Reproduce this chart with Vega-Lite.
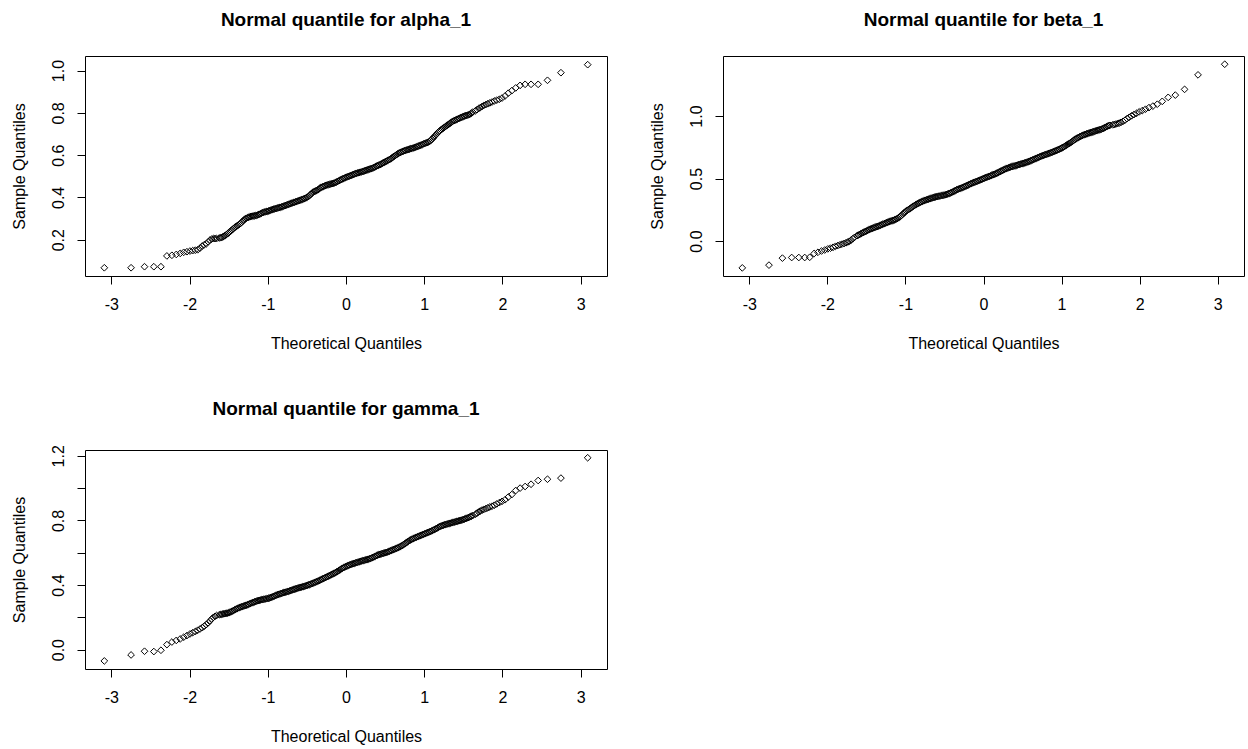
{
  "$schema": "https://vega.github.io/schema/vega-lite/v6.json",
  "background": "white",
  "padding": {"left": 10, "top": 10, "right": 5, "bottom": 5},
  "config": {
    "view": {"stroke": "black", "strokeWidth": 1},
    "font": "Liberation Sans",
    "axis": {
      "domain": false,
      "grid": false,
      "ticks": true,
      "tickColor": "black",
      "tickSize": 8,
      "labelFont": "Liberation Sans",
      "labelFontSize": 16,
      "labelColor": "black",
      "labelOverlap": false,
      "titleFont": "Liberation Sans",
      "titleFontSize": 16,
      "titleFontWeight": "normal",
      "titleColor": "black"
    },
    "axisX": {"labelPadding": 12, "titlePadding": 23},
    "axisY": {"labelAngle": -90, "labelAlign": "center", "labelBaseline": "bottom", "labelPadding": 11, "titlePadding": 23},
    "title": {"font": "Liberation Sans", "fontSize": 19, "fontWeight": "bold", "color": "black", "anchor": "middle", "offset": 26},
    "point": {"shape": "diamond", "size": 45, "filled": false, "stroke": "black", "strokeWidth": 1, "opacity": 1}
  },
  "datasets": {
    "alpha_1": [
      {"x":-3.090,"y":0.067},{"x":-2.748,"y":0.067},{"x":-2.576,"y":0.072},{"x":-2.457,"y":0.072},{"x":-2.366,"y":0.072},
      {"x":-2.290,"y":0.123},{"x":-2.226,"y":0.126},{"x":-2.170,"y":0.130},{"x":-2.120,"y":0.135},{"x":-2.075,"y":0.140},
      {"x":-2.034,"y":0.143},{"x":-1.995,"y":0.146},{"x":-1.960,"y":0.148},{"x":-1.927,"y":0.150},{"x":-1.896,"y":0.152},
      {"x":-1.866,"y":0.160},{"x":-1.838,"y":0.170},{"x":-1.812,"y":0.176},{"x":-1.787,"y":0.180},{"x":-1.762,"y":0.190},
      {"x":-1.739,"y":0.198},{"x":-1.717,"y":0.203},{"x":-1.695,"y":0.205},{"x":-1.675,"y":0.205},{"x":-1.655,"y":0.205},
      {"x":-1.62,"y":0.208},{"x":-1.59,"y":0.210},{"x":-1.56,"y":0.216},{"x":-1.53,"y":0.224},{"x":-1.50,"y":0.232},
      {"x":-1.47,"y":0.242},{"x":-1.44,"y":0.252},{"x":-1.41,"y":0.261},{"x":-1.38,"y":0.268},{"x":-1.35,"y":0.276},
      {"x":-1.32,"y":0.288},{"x":-1.29,"y":0.298},{"x":-1.26,"y":0.304},{"x":-1.23,"y":0.308},{"x":-1.20,"y":0.311},
      {"x":-1.17,"y":0.313},{"x":-1.14,"y":0.315},{"x":-1.11,"y":0.320},{"x":-1.08,"y":0.325},{"x":-1.05,"y":0.330},
      {"x":-1.02,"y":0.333},{"x":-0.99,"y":0.336},{"x":-0.96,"y":0.340},{"x":-0.93,"y":0.344},{"x":-0.90,"y":0.347},
      {"x":-0.87,"y":0.350},{"x":-0.84,"y":0.353},{"x":-0.81,"y":0.357},{"x":-0.78,"y":0.361},{"x":-0.75,"y":0.365},
      {"x":-0.72,"y":0.369},{"x":-0.69,"y":0.373},{"x":-0.66,"y":0.377},{"x":-0.63,"y":0.381},{"x":-0.60,"y":0.385},
      {"x":-0.57,"y":0.389},{"x":-0.54,"y":0.393},{"x":-0.51,"y":0.398},{"x":-0.48,"y":0.404},{"x":-0.45,"y":0.415},
      {"x":-0.42,"y":0.425},{"x":-0.39,"y":0.430},{"x":-0.36,"y":0.436},{"x":-0.33,"y":0.445},{"x":-0.30,"y":0.450},
      {"x":-0.27,"y":0.455},{"x":-0.24,"y":0.459},{"x":-0.21,"y":0.462},{"x":-0.18,"y":0.465},{"x":-0.15,"y":0.468},
      {"x":-0.12,"y":0.473},{"x":-0.09,"y":0.479},{"x":-0.06,"y":0.485},{"x":-0.03,"y":0.490},{"x":0.00,"y":0.495},
      {"x":0.03,"y":0.499},{"x":0.06,"y":0.503},{"x":0.09,"y":0.508},{"x":0.12,"y":0.512},{"x":0.15,"y":0.516},
      {"x":0.18,"y":0.519},{"x":0.21,"y":0.522},{"x":0.24,"y":0.526},{"x":0.27,"y":0.530},{"x":0.30,"y":0.534},
      {"x":0.33,"y":0.537},{"x":0.36,"y":0.542},{"x":0.39,"y":0.548},{"x":0.42,"y":0.553},{"x":0.45,"y":0.558},
      {"x":0.48,"y":0.564},{"x":0.51,"y":0.570},{"x":0.54,"y":0.576},{"x":0.57,"y":0.582},{"x":0.60,"y":0.590},
      {"x":0.63,"y":0.598},{"x":0.66,"y":0.606},{"x":0.69,"y":0.612},{"x":0.72,"y":0.617},{"x":0.75,"y":0.621},
      {"x":0.78,"y":0.625},{"x":0.81,"y":0.628},{"x":0.84,"y":0.632},{"x":0.87,"y":0.635},{"x":0.90,"y":0.639},
      {"x":0.93,"y":0.643},{"x":0.96,"y":0.648},{"x":0.99,"y":0.653},{"x":1.02,"y":0.657},{"x":1.05,"y":0.661},
      {"x":1.08,"y":0.668},{"x":1.11,"y":0.680},{"x":1.14,"y":0.692},{"x":1.17,"y":0.705},{"x":1.20,"y":0.715},
      {"x":1.23,"y":0.724},{"x":1.26,"y":0.732},{"x":1.29,"y":0.740},{"x":1.32,"y":0.748},{"x":1.35,"y":0.756},
      {"x":1.38,"y":0.763},{"x":1.41,"y":0.768},{"x":1.44,"y":0.773},{"x":1.47,"y":0.778},{"x":1.50,"y":0.783},
      {"x":1.53,"y":0.787},{"x":1.56,"y":0.790},{"x":1.59,"y":0.795},{"x":1.62,"y":0.803},
      {"x":-1.605,"y":0.209},{"x":-1.575,"y":0.213},{"x":-1.545,"y":0.220},{"x":-1.515,"y":0.228},{"x":-1.485,"y":0.237},
      {"x":-1.455,"y":0.247},{"x":-1.425,"y":0.257},{"x":-1.395,"y":0.265},{"x":-1.365,"y":0.272},{"x":-1.335,"y":0.282},
      {"x":-1.305,"y":0.293},{"x":-1.275,"y":0.301},{"x":-1.245,"y":0.306},{"x":-1.215,"y":0.310},{"x":-1.185,"y":0.312},
      {"x":-1.155,"y":0.314},{"x":-1.125,"y":0.318},{"x":-1.095,"y":0.322},{"x":-1.065,"y":0.328},{"x":-1.035,"y":0.331},
      {"x":-1.005,"y":0.334},{"x":-0.975,"y":0.338},{"x":-0.945,"y":0.342},{"x":-0.915,"y":0.345},{"x":-0.885,"y":0.348},
      {"x":-0.855,"y":0.352},{"x":-0.825,"y":0.355},{"x":-0.795,"y":0.359},{"x":-0.765,"y":0.363},{"x":-0.735,"y":0.367},
      {"x":-0.705,"y":0.371},{"x":-0.675,"y":0.375},{"x":-0.645,"y":0.379},{"x":-0.615,"y":0.383},{"x":-0.585,"y":0.387},
      {"x":-0.555,"y":0.391},{"x":-0.525,"y":0.395},{"x":-0.495,"y":0.401},{"x":-0.465,"y":0.409},{"x":-0.435,"y":0.420},
      {"x":-0.405,"y":0.428},{"x":-0.375,"y":0.433},{"x":-0.345,"y":0.440},{"x":-0.315,"y":0.448},{"x":-0.285,"y":0.452},
      {"x":-0.255,"y":0.457},{"x":-0.225,"y":0.460},{"x":-0.195,"y":0.463},{"x":-0.165,"y":0.466},{"x":-0.135,"y":0.470},
      {"x":-0.105,"y":0.476},{"x":-0.075,"y":0.482},{"x":-0.045,"y":0.487},{"x":-0.015,"y":0.492},{"x":0.015,"y":0.497},
      {"x":0.045,"y":0.501},{"x":0.075,"y":0.505},{"x":0.105,"y":0.510},{"x":0.135,"y":0.514},{"x":0.165,"y":0.517},
      {"x":0.195,"y":0.520},{"x":0.225,"y":0.524},{"x":0.255,"y":0.528},{"x":0.285,"y":0.532},{"x":0.315,"y":0.535},
      {"x":0.345,"y":0.539},{"x":0.375,"y":0.545},{"x":0.405,"y":0.550},{"x":0.435,"y":0.555},{"x":0.465,"y":0.561},
      {"x":0.495,"y":0.567},{"x":0.525,"y":0.573},{"x":0.555,"y":0.579},{"x":0.585,"y":0.586},{"x":0.615,"y":0.594},
      {"x":0.645,"y":0.602},{"x":0.675,"y":0.609},{"x":0.705,"y":0.614},{"x":0.735,"y":0.619},{"x":0.765,"y":0.623},
      {"x":0.795,"y":0.626},{"x":0.825,"y":0.630},{"x":0.855,"y":0.633},{"x":0.885,"y":0.637},{"x":0.915,"y":0.641},
      {"x":0.945,"y":0.645},{"x":0.975,"y":0.650},{"x":1.005,"y":0.655},{"x":1.035,"y":0.659},{"x":1.065,"y":0.664},
      {"x":1.095,"y":0.674},{"x":1.125,"y":0.686},{"x":1.155,"y":0.698},{"x":1.185,"y":0.710},{"x":1.215,"y":0.720},
      {"x":1.245,"y":0.728},{"x":1.275,"y":0.736},{"x":1.305,"y":0.744},{"x":1.335,"y":0.752},{"x":1.365,"y":0.760},
      {"x":1.395,"y":0.765},{"x":1.425,"y":0.770},{"x":1.455,"y":0.775},{"x":1.485,"y":0.780},{"x":1.515,"y":0.785},
      {"x":1.545,"y":0.788},{"x":1.575,"y":0.792},{"x":1.605,"y":0.799},
      {"x":1.655,"y":0.810},{"x":1.675,"y":0.815},{"x":1.695,"y":0.820},{"x":1.717,"y":0.825},{"x":1.739,"y":0.830},
      {"x":1.762,"y":0.835},{"x":1.787,"y":0.839},{"x":1.812,"y":0.843},{"x":1.838,"y":0.847},{"x":1.866,"y":0.851},
      {"x":1.896,"y":0.856},{"x":1.927,"y":0.860},{"x":1.960,"y":0.864},{"x":1.995,"y":0.870},{"x":2.034,"y":0.880},
      {"x":2.075,"y":0.893},{"x":2.120,"y":0.905},{"x":2.170,"y":0.918},{"x":2.226,"y":0.930},{"x":2.290,"y":0.935},
      {"x":2.366,"y":0.935},{"x":2.457,"y":0.935},{"x":2.576,"y":0.954},{"x":2.748,"y":0.990},{"x":3.090,"y":1.028}
    ],
    "beta_1": [
      {"x":-3.090,"y":-0.215},{"x":-2.748,"y":-0.193},{"x":-2.576,"y":-0.137},{"x":-2.457,"y":-0.132},{"x":-2.366,"y":-0.132},
      {"x":-2.290,"y":-0.132},{"x":-2.226,"y":-0.130},{"x":-2.170,"y":-0.100},{"x":-2.120,"y":-0.090},{"x":-2.075,"y":-0.080},
      {"x":-2.034,"y":-0.072},{"x":-1.995,"y":-0.063},{"x":-1.960,"y":-0.057},{"x":-1.927,"y":-0.050},{"x":-1.896,"y":-0.042},
      {"x":-1.866,"y":-0.036},{"x":-1.838,"y":-0.030},{"x":-1.812,"y":-0.025},{"x":-1.787,"y":-0.020},{"x":-1.762,"y":-0.014},
      {"x":-1.739,"y":-0.008},{"x":-1.717,"y":-0.002},{"x":-1.695,"y":0.008},{"x":-1.675,"y":0.018},{"x":-1.655,"y":0.028},
      {"x":-1.62,"y":0.043},{"x":-1.59,"y":0.052},{"x":-1.56,"y":0.062},{"x":-1.53,"y":0.072},{"x":-1.50,"y":0.080},
      {"x":-1.47,"y":0.090},{"x":-1.44,"y":0.098},{"x":-1.41,"y":0.105},{"x":-1.38,"y":0.112},{"x":-1.35,"y":0.118},
      {"x":-1.32,"y":0.126},{"x":-1.29,"y":0.135},{"x":-1.26,"y":0.142},{"x":-1.23,"y":0.150},{"x":-1.20,"y":0.157},
      {"x":-1.17,"y":0.163},{"x":-1.14,"y":0.170},{"x":-1.11,"y":0.178},{"x":-1.08,"y":0.190},{"x":-1.05,"y":0.205},
      {"x":-1.02,"y":0.225},{"x":-0.99,"y":0.240},{"x":-0.96,"y":0.252},{"x":-0.93,"y":0.265},{"x":-0.90,"y":0.278},
      {"x":-0.87,"y":0.290},{"x":-0.84,"y":0.300},{"x":-0.81,"y":0.310},{"x":-0.78,"y":0.318},{"x":-0.75,"y":0.326},
      {"x":-0.72,"y":0.332},{"x":-0.69,"y":0.338},{"x":-0.66,"y":0.344},{"x":-0.63,"y":0.350},{"x":-0.60,"y":0.355},
      {"x":-0.57,"y":0.359},{"x":-0.54,"y":0.363},{"x":-0.51,"y":0.367},{"x":-0.48,"y":0.372},{"x":-0.45,"y":0.378},
      {"x":-0.42,"y":0.386},{"x":-0.39,"y":0.395},{"x":-0.36,"y":0.405},{"x":-0.33,"y":0.414},{"x":-0.30,"y":0.421},
      {"x":-0.27,"y":0.428},{"x":-0.24,"y":0.436},{"x":-0.21,"y":0.445},{"x":-0.18,"y":0.454},{"x":-0.15,"y":0.462},
      {"x":-0.12,"y":0.470},{"x":-0.09,"y":0.477},{"x":-0.06,"y":0.484},{"x":-0.03,"y":0.492},{"x":0.00,"y":0.500},
      {"x":0.03,"y":0.508},{"x":0.06,"y":0.515},{"x":0.09,"y":0.522},{"x":0.12,"y":0.530},{"x":0.15,"y":0.537},
      {"x":0.18,"y":0.545},{"x":0.21,"y":0.555},{"x":0.24,"y":0.565},{"x":0.27,"y":0.574},{"x":0.30,"y":0.582},
      {"x":0.33,"y":0.589},{"x":0.36,"y":0.595},{"x":0.39,"y":0.600},{"x":0.42,"y":0.605},{"x":0.45,"y":0.611},
      {"x":0.48,"y":0.617},{"x":0.51,"y":0.622},{"x":0.54,"y":0.628},{"x":0.57,"y":0.634},{"x":0.60,"y":0.642},
      {"x":0.63,"y":0.650},{"x":0.66,"y":0.658},{"x":0.69,"y":0.666},{"x":0.72,"y":0.674},{"x":0.75,"y":0.682},
      {"x":0.78,"y":0.689},{"x":0.81,"y":0.695},{"x":0.84,"y":0.702},{"x":0.87,"y":0.709},{"x":0.90,"y":0.716},
      {"x":0.93,"y":0.724},{"x":0.96,"y":0.732},{"x":0.99,"y":0.740},{"x":1.02,"y":0.750},{"x":1.05,"y":0.762},
      {"x":1.08,"y":0.774},{"x":1.11,"y":0.786},{"x":1.14,"y":0.798},{"x":1.17,"y":0.812},{"x":1.20,"y":0.824},
      {"x":1.23,"y":0.834},{"x":1.26,"y":0.843},{"x":1.29,"y":0.851},{"x":1.32,"y":0.858},{"x":1.35,"y":0.864},
      {"x":1.38,"y":0.870},{"x":1.41,"y":0.876},{"x":1.44,"y":0.882},{"x":1.47,"y":0.888},{"x":1.50,"y":0.893},
      {"x":1.53,"y":0.900},{"x":1.56,"y":0.910},{"x":1.59,"y":0.920},{"x":1.62,"y":0.926},
      {"x":-1.605,"y":0.047},{"x":-1.575,"y":0.057},{"x":-1.545,"y":0.067},{"x":-1.515,"y":0.076},{"x":-1.485,"y":0.085},
      {"x":-1.455,"y":0.094},{"x":-1.425,"y":0.101},{"x":-1.395,"y":0.108},{"x":-1.365,"y":0.115},{"x":-1.335,"y":0.122},
      {"x":-1.305,"y":0.130},{"x":-1.275,"y":0.138},{"x":-1.245,"y":0.146},{"x":-1.215,"y":0.153},{"x":-1.185,"y":0.160},
      {"x":-1.155,"y":0.166},{"x":-1.125,"y":0.174},{"x":-1.095,"y":0.183},{"x":-1.065,"y":0.197},{"x":-1.035,"y":0.215},
      {"x":-1.005,"y":0.232},{"x":-0.975,"y":0.246},{"x":-0.945,"y":0.258},{"x":-0.915,"y":0.271},{"x":-0.885,"y":0.284},
      {"x":-0.855,"y":0.295},{"x":-0.825,"y":0.305},{"x":-0.795,"y":0.314},{"x":-0.765,"y":0.322},{"x":-0.735,"y":0.329},
      {"x":-0.705,"y":0.335},{"x":-0.675,"y":0.341},{"x":-0.645,"y":0.347},{"x":-0.615,"y":0.352},{"x":-0.585,"y":0.357},
      {"x":-0.555,"y":0.361},{"x":-0.525,"y":0.365},{"x":-0.495,"y":0.369},{"x":-0.465,"y":0.375},{"x":-0.435,"y":0.382},
      {"x":-0.405,"y":0.390},{"x":-0.375,"y":0.400},{"x":-0.345,"y":0.410},{"x":-0.315,"y":0.417},{"x":-0.285,"y":0.424},
      {"x":-0.255,"y":0.432},{"x":-0.225,"y":0.440},{"x":-0.195,"y":0.449},{"x":-0.165,"y":0.458},{"x":-0.135,"y":0.466},
      {"x":-0.105,"y":0.473},{"x":-0.075,"y":0.480},{"x":-0.045,"y":0.488},{"x":-0.015,"y":0.496},{"x":0.015,"y":0.504},
      {"x":0.045,"y":0.511},{"x":0.075,"y":0.518},{"x":0.105,"y":0.526},{"x":0.135,"y":0.533},{"x":0.165,"y":0.541},
      {"x":0.195,"y":0.550},{"x":0.225,"y":0.560},{"x":0.255,"y":0.569},{"x":0.285,"y":0.578},{"x":0.315,"y":0.585},
      {"x":0.345,"y":0.592},{"x":0.375,"y":0.597},{"x":0.405,"y":0.602},{"x":0.435,"y":0.608},{"x":0.465,"y":0.614},
      {"x":0.495,"y":0.619},{"x":0.525,"y":0.625},{"x":0.555,"y":0.631},{"x":0.585,"y":0.638},{"x":0.615,"y":0.646},
      {"x":0.645,"y":0.654},{"x":0.675,"y":0.662},{"x":0.705,"y":0.670},{"x":0.735,"y":0.678},{"x":0.765,"y":0.685},
      {"x":0.795,"y":0.692},{"x":0.825,"y":0.698},{"x":0.855,"y":0.705},{"x":0.885,"y":0.712},{"x":0.915,"y":0.720},
      {"x":0.945,"y":0.728},{"x":0.975,"y":0.736},{"x":1.005,"y":0.745},{"x":1.035,"y":0.756},{"x":1.065,"y":0.768},
      {"x":1.095,"y":0.780},{"x":1.125,"y":0.792},{"x":1.155,"y":0.805},{"x":1.185,"y":0.818},{"x":1.215,"y":0.829},
      {"x":1.245,"y":0.838},{"x":1.275,"y":0.847},{"x":1.305,"y":0.854},{"x":1.335,"y":0.861},{"x":1.365,"y":0.867},
      {"x":1.395,"y":0.873},{"x":1.425,"y":0.879},{"x":1.455,"y":0.885},{"x":1.485,"y":0.890},{"x":1.515,"y":0.896},
      {"x":1.545,"y":0.905},{"x":1.575,"y":0.915},{"x":1.605,"y":0.923},
      {"x":1.655,"y":0.930},{"x":1.675,"y":0.933},{"x":1.695,"y":0.936},{"x":1.717,"y":0.940},{"x":1.739,"y":0.944},
      {"x":1.762,"y":0.950},{"x":1.787,"y":0.958},{"x":1.812,"y":0.967},{"x":1.838,"y":0.980},{"x":1.866,"y":0.990},
      {"x":1.896,"y":1.002},{"x":1.927,"y":1.012},{"x":1.960,"y":1.022},{"x":1.995,"y":1.034},{"x":2.034,"y":1.044},
      {"x":2.075,"y":1.055},{"x":2.120,"y":1.068},{"x":2.170,"y":1.080},{"x":2.226,"y":1.095},{"x":2.290,"y":1.118},
      {"x":2.366,"y":1.150},{"x":2.457,"y":1.168},{"x":2.576,"y":1.214},{"x":2.748,"y":1.330},{"x":3.090,"y":1.415}
    ],
    "gamma_1": [
      {"x":-3.090,"y":-0.070},{"x":-2.748,"y":-0.033},{"x":-2.576,"y":-0.010},{"x":-2.457,"y":-0.012},{"x":-2.366,"y":-0.004},
      {"x":-2.290,"y":0.031},{"x":-2.226,"y":0.047},{"x":-2.170,"y":0.057},{"x":-2.120,"y":0.066},{"x":-2.075,"y":0.077},
      {"x":-2.034,"y":0.087},{"x":-1.995,"y":0.097},{"x":-1.960,"y":0.105},{"x":-1.927,"y":0.112},{"x":-1.896,"y":0.120},
      {"x":-1.866,"y":0.128},{"x":-1.838,"y":0.136},{"x":-1.812,"y":0.145},{"x":-1.787,"y":0.155},{"x":-1.762,"y":0.166},
      {"x":-1.739,"y":0.178},{"x":-1.717,"y":0.190},{"x":-1.695,"y":0.200},{"x":-1.675,"y":0.206},{"x":-1.655,"y":0.211},
      {"x":-1.62,"y":0.216},{"x":-1.59,"y":0.219},{"x":-1.56,"y":0.222},{"x":-1.53,"y":0.225},{"x":-1.50,"y":0.228},
      {"x":-1.47,"y":0.234},{"x":-1.44,"y":0.242},{"x":-1.41,"y":0.250},{"x":-1.38,"y":0.257},{"x":-1.35,"y":0.263},
      {"x":-1.32,"y":0.268},{"x":-1.29,"y":0.273},{"x":-1.26,"y":0.278},{"x":-1.23,"y":0.284},{"x":-1.20,"y":0.290},
      {"x":-1.17,"y":0.296},{"x":-1.14,"y":0.301},{"x":-1.11,"y":0.305},{"x":-1.08,"y":0.309},{"x":-1.05,"y":0.312},
      {"x":-1.02,"y":0.315},{"x":-0.99,"y":0.318},{"x":-0.96,"y":0.323},{"x":-0.93,"y":0.329},{"x":-0.90,"y":0.335},
      {"x":-0.87,"y":0.341},{"x":-0.84,"y":0.346},{"x":-0.81,"y":0.351},{"x":-0.78,"y":0.355},{"x":-0.75,"y":0.359},
      {"x":-0.72,"y":0.364},{"x":-0.69,"y":0.369},{"x":-0.66,"y":0.374},{"x":-0.63,"y":0.379},{"x":-0.60,"y":0.383},
      {"x":-0.57,"y":0.387},{"x":-0.54,"y":0.391},{"x":-0.51,"y":0.396},{"x":-0.48,"y":0.401},{"x":-0.45,"y":0.406},
      {"x":-0.42,"y":0.412},{"x":-0.39,"y":0.418},{"x":-0.36,"y":0.424},{"x":-0.33,"y":0.431},{"x":-0.30,"y":0.438},
      {"x":-0.27,"y":0.445},{"x":-0.24,"y":0.452},{"x":-0.21,"y":0.459},{"x":-0.18,"y":0.466},{"x":-0.15,"y":0.473},
      {"x":-0.12,"y":0.481},{"x":-0.09,"y":0.490},{"x":-0.06,"y":0.500},{"x":-0.03,"y":0.508},{"x":0.00,"y":0.515},
      {"x":0.03,"y":0.522},{"x":0.06,"y":0.527},{"x":0.09,"y":0.532},{"x":0.12,"y":0.537},{"x":0.15,"y":0.541},
      {"x":0.18,"y":0.546},{"x":0.21,"y":0.550},{"x":0.24,"y":0.554},{"x":0.27,"y":0.558},{"x":0.30,"y":0.562},
      {"x":0.33,"y":0.568},{"x":0.36,"y":0.575},{"x":0.39,"y":0.582},{"x":0.42,"y":0.588},{"x":0.45,"y":0.593},
      {"x":0.48,"y":0.597},{"x":0.51,"y":0.601},{"x":0.54,"y":0.606},{"x":0.57,"y":0.612},{"x":0.60,"y":0.618},
      {"x":0.63,"y":0.624},{"x":0.66,"y":0.630},{"x":0.69,"y":0.637},{"x":0.72,"y":0.645},{"x":0.75,"y":0.655},
      {"x":0.78,"y":0.665},{"x":0.81,"y":0.675},{"x":0.84,"y":0.683},{"x":0.87,"y":0.690},{"x":0.90,"y":0.696},
      {"x":0.93,"y":0.702},{"x":0.96,"y":0.708},{"x":0.99,"y":0.714},{"x":1.02,"y":0.720},{"x":1.05,"y":0.726},
      {"x":1.08,"y":0.732},{"x":1.11,"y":0.739},{"x":1.14,"y":0.746},{"x":1.17,"y":0.754},{"x":1.20,"y":0.762},
      {"x":1.23,"y":0.768},{"x":1.26,"y":0.773},{"x":1.29,"y":0.777},{"x":1.32,"y":0.781},{"x":1.35,"y":0.785},
      {"x":1.38,"y":0.789},{"x":1.41,"y":0.793},{"x":1.44,"y":0.797},{"x":1.47,"y":0.801},{"x":1.50,"y":0.806},
      {"x":1.53,"y":0.811},{"x":1.56,"y":0.817},{"x":1.59,"y":0.823},{"x":1.62,"y":0.830},
      {"x":-1.605,"y":0.217},{"x":-1.575,"y":0.220},{"x":-1.545,"y":0.223},{"x":-1.515,"y":0.226},{"x":-1.485,"y":0.231},
      {"x":-1.455,"y":0.238},{"x":-1.425,"y":0.246},{"x":-1.395,"y":0.253},{"x":-1.365,"y":0.260},{"x":-1.335,"y":0.265},
      {"x":-1.305,"y":0.270},{"x":-1.275,"y":0.275},{"x":-1.245,"y":0.281},{"x":-1.215,"y":0.287},{"x":-1.185,"y":0.293},
      {"x":-1.155,"y":0.298},{"x":-1.125,"y":0.303},{"x":-1.095,"y":0.307},{"x":-1.065,"y":0.310},{"x":-1.035,"y":0.313},
      {"x":-1.005,"y":0.316},{"x":-0.975,"y":0.320},{"x":-0.945,"y":0.326},{"x":-0.915,"y":0.332},{"x":-0.885,"y":0.338},
      {"x":-0.855,"y":0.343},{"x":-0.825,"y":0.348},{"x":-0.795,"y":0.353},{"x":-0.765,"y":0.357},{"x":-0.735,"y":0.361},
      {"x":-0.705,"y":0.366},{"x":-0.675,"y":0.371},{"x":-0.645,"y":0.376},{"x":-0.615,"y":0.381},{"x":-0.585,"y":0.385},
      {"x":-0.555,"y":0.389},{"x":-0.525,"y":0.393},{"x":-0.495,"y":0.398},{"x":-0.465,"y":0.403},{"x":-0.435,"y":0.409},
      {"x":-0.405,"y":0.415},{"x":-0.375,"y":0.421},{"x":-0.345,"y":0.427},{"x":-0.315,"y":0.434},{"x":-0.285,"y":0.441},
      {"x":-0.255,"y":0.448},{"x":-0.225,"y":0.455},{"x":-0.195,"y":0.462},{"x":-0.165,"y":0.469},{"x":-0.135,"y":0.477},
      {"x":-0.105,"y":0.485},{"x":-0.075,"y":0.495},{"x":-0.045,"y":0.504},{"x":-0.015,"y":0.511},{"x":0.015,"y":0.518},
      {"x":0.045,"y":0.524},{"x":0.075,"y":0.529},{"x":0.105,"y":0.534},{"x":0.135,"y":0.539},{"x":0.165,"y":0.543},
      {"x":0.195,"y":0.548},{"x":0.225,"y":0.552},{"x":0.255,"y":0.556},{"x":0.285,"y":0.560},{"x":0.315,"y":0.565},
      {"x":0.345,"y":0.571},{"x":0.375,"y":0.578},{"x":0.405,"y":0.585},{"x":0.435,"y":0.590},{"x":0.465,"y":0.595},
      {"x":0.495,"y":0.599},{"x":0.525,"y":0.603},{"x":0.555,"y":0.609},{"x":0.585,"y":0.615},{"x":0.615,"y":0.621},
      {"x":0.645,"y":0.627},{"x":0.675,"y":0.633},{"x":0.705,"y":0.641},{"x":0.735,"y":0.650},{"x":0.765,"y":0.660},
      {"x":0.795,"y":0.670},{"x":0.825,"y":0.679},{"x":0.855,"y":0.686},{"x":0.885,"y":0.693},{"x":0.915,"y":0.699},
      {"x":0.945,"y":0.705},{"x":0.975,"y":0.711},{"x":1.005,"y":0.717},{"x":1.035,"y":0.723},{"x":1.065,"y":0.729},
      {"x":1.095,"y":0.735},{"x":1.125,"y":0.742},{"x":1.155,"y":0.750},{"x":1.185,"y":0.758},{"x":1.215,"y":0.765},
      {"x":1.245,"y":0.770},{"x":1.275,"y":0.775},{"x":1.305,"y":0.779},{"x":1.335,"y":0.783},{"x":1.365,"y":0.787},
      {"x":1.395,"y":0.791},{"x":1.425,"y":0.795},{"x":1.455,"y":0.799},{"x":1.485,"y":0.803},{"x":1.515,"y":0.808},
      {"x":1.545,"y":0.814},{"x":1.575,"y":0.820},{"x":1.605,"y":0.826},
      {"x":1.655,"y":0.838},{"x":1.675,"y":0.845},{"x":1.695,"y":0.852},{"x":1.717,"y":0.858},{"x":1.739,"y":0.864},
      {"x":1.762,"y":0.868},{"x":1.787,"y":0.873},{"x":1.812,"y":0.878},{"x":1.838,"y":0.883},{"x":1.866,"y":0.888},
      {"x":1.896,"y":0.894},{"x":1.927,"y":0.902},{"x":1.960,"y":0.910},{"x":1.995,"y":0.918},{"x":2.034,"y":0.928},
      {"x":2.075,"y":0.945},{"x":2.120,"y":0.960},{"x":2.170,"y":0.985},{"x":2.226,"y":1.000},{"x":2.290,"y":1.010},
      {"x":2.366,"y":1.024},{"x":2.457,"y":1.047},{"x":2.576,"y":1.055},{"x":2.748,"y":1.062},{"x":3.090,"y":1.188}
    ]
  },
  "columns": 2,
  "bounds": "flush",
  "spacing": {"row": 174, "column": 116},
  "concat": [
    {
      "title": "Normal quantile for alpha_1",
      "width": 522,
      "height": 220,
      "data": {"name": "alpha_1"},
      "mark": "point",
      "encoding": {
        "x": {"field": "x", "type": "quantitative", "title": "Theoretical Quantiles",
              "scale": {"domain": [-3.337, 3.337], "nice": false, "zero": false},
              "axis": {"values": [-3, -2, -1, 0, 1, 2, 3], "labelExpr": "'' + datum.value"}},
        "y": {"field": "y", "type": "quantitative", "title": "Sample Quantiles",
              "scale": {"domain": [0.028, 1.069], "nice": false, "zero": false},
              "axis": {"values": [0.2, 0.4, 0.6, 0.8, 1.0], "format": ".1f"}}
      }
    },
    {
      "title": "Normal quantile for beta_1",
      "width": 521,
      "height": 220,
      "data": {"name": "beta_1"},
      "mark": "point",
      "encoding": {
        "x": {"field": "x", "type": "quantitative", "title": "Theoretical Quantiles",
              "scale": {"domain": [-3.337, 3.337], "nice": false, "zero": false},
              "axis": {"values": [-3, -2, -1, 0, 1, 2, 3], "labelExpr": "'' + datum.value"}},
        "y": {"field": "y", "type": "quantitative", "title": "Sample Quantiles",
              "scale": {"domain": [-0.280, 1.481], "nice": false, "zero": false},
              "axis": {"values": [0.0, 0.5, 1.0], "format": ".1f"}}
      }
    },
    {
      "title": "Normal quantile for gamma_1",
      "width": 522,
      "height": 219,
      "data": {"name": "gamma_1"},
      "mark": "point",
      "encoding": {
        "x": {"field": "x", "type": "quantitative", "title": "Theoretical Quantiles",
              "scale": {"domain": [-3.337, 3.337], "nice": false, "zero": false},
              "axis": {"values": [-3, -2, -1, 0, 1, 2, 3], "labelExpr": "'' + datum.value"}},
        "y": {"field": "y", "type": "quantitative", "title": "Sample Quantiles",
              "scale": {"domain": [-0.120, 1.236], "nice": false, "zero": false},
              "axis": {"values": [0.0, 0.2, 0.4, 0.6, 0.8, 1.0, 1.2],
                       "labelExpr": "indexof(['0.0','0.4','0.8','1.2'], format(datum.value, '.1f')) >= 0 ? format(datum.value, '.1f') : ''"}}
      }
    }
  ]
}
